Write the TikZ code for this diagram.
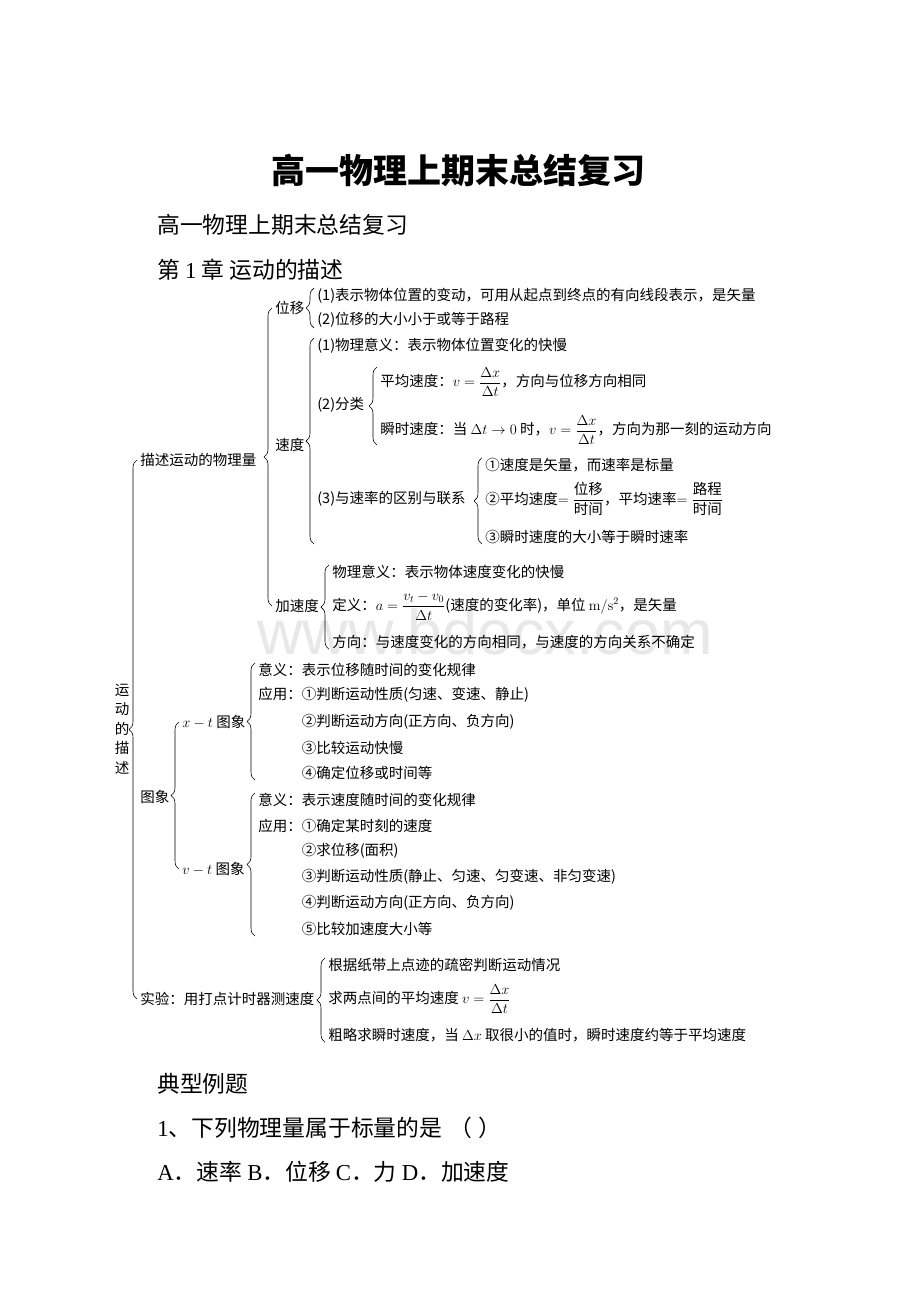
\documentclass[tikz,border=0pt]{standalone}
\usepackage{amsmath}
\usepackage[no-math]{fontspec}
\setmainfont{Noto Sans CJK SC}
\newfontfamily\lat{Liberation Serif}
\newfontfamily\wmfont{Liberation Sans}
\usetikzlibrary{decorations.pathreplacing}

\begin{document}
\begin{tikzpicture}[x=1pt, y=-1pt, semithick,
    leaf/.style={anchor=west, inner sep=0pt, font=\fontsize{14.5}{17}\selectfont},
    head/.style={anchor=west, inner sep=0pt, font=\fontsize{22.8}{26}\selectfont},
    brc/.style={decorate, decoration={brace, mirror, amplitude=8pt}, line width=0.6pt}]

\fill[white] (0,0) rectangle (920,1302);
\useasboundingbox (0,0) rectangle (920,1302);

\node (wm) at (485, 632) [text=black!9, inner sep=0pt, font=\wmfont\fontsize{63}{63}\selectfont] {www.bdocx.com};

\node (title) at (458, 170) [inner sep=0pt, font=\fontsize{34}{40}\selectfont\bfseries] {高一物理上期末总结复习};
\node (head1) at (157, 225) [head] {高一物理上期末总结复习};
\node (head2) at (157, 270) [head] {第 {\lat 1} 章 运动的描述};

\node (root) at (122, 729) [leaf, anchor=center, align=center, font=\fontsize{14.5}{19.5}\selectfont] {运\\动\\的\\描\\述};

\node (desc) at (140, 460) [leaf] {描述运动的物理量};
\node (tux)  at (140, 797) [leaf] {图象};
\node (expt) at (140, 999) [leaf] {实验：用打点计时器测速度};

\node (wy)  at (275, 308) [leaf] {位移};
\node (sd)  at (275, 445) [leaf] {速度};
\node (jsd) at (275, 606) [leaf] {加速度};

\node (wy1) at (317, 296) [leaf] {(1)表示物体位置的变动，可用从起点到终点的有向线段表示，是矢量};
\node (wy2) at (317, 320) [leaf] {(2)位移的大小小于或等于路程};

\node (sd1) at (317, 346) [leaf] {(1)物理意义：表示物体位置变化的快慢};
\node (sd2) at (317, 405) [leaf] {(2)分类};
\node (sd3) at (317, 499) [leaf] {(3)与速率的区别与联系};

\node (fl1) at (380, 382) [leaf] {平均速度：$v=\dfrac{\Delta x}{\Delta t}$，方向与位移方向相同};
\node (fl2) at (380, 430) [leaf] {瞬时速度：当 $\Delta t\to 0$ 时，$v=\dfrac{\Delta x}{\Delta t}$，方向为那一刻的运动方向};

\node (sl1) at (485, 465) [leaf] {①速度是矢量，而速率是标量};
\node (sl2) at (485, 499) [leaf] {②平均速度$=\dfrac{\mbox{位移}}{\mbox{时间}}$，平均速率$=\dfrac{\mbox{路程}}{\mbox{时间}}$};
\node (sl3) at (485, 537) [leaf] {③瞬时速度的大小等于瞬时速率};

\node (jsd1) at (332, 572) [leaf] {物理意义：表示物体速度变化的快慢};
\node (jsd2) at (332, 606) [leaf] {定义：$a=\dfrac{v_t-v_0}{\Delta t}$(速度的变化率)，单位 $\mathrm{m/s^2}$，是矢量};
\node (jsd3) at (332, 642) [leaf] {方向：与速度变化的方向相同，与速度的方向关系不确定};

\node (xt) at (182, 722) [leaf] {$x-t$ 图象};
\node (vt) at (182, 869) [leaf] {$v-t$ 图象};

\node (xt1) at (258, 670)   [leaf] {意义：表示位移随时间的变化规律};
\node (xt2) at (258, 695)   [leaf] {应用：①判断运动性质(匀速、变速、静止)};
\node (xt3) at (301.5, 722) [leaf] {②判断运动方向(正方向、负方向)};
\node (xt4) at (301.5, 748) [leaf] {③比较运动快慢};
\node (xt5) at (301.5, 773) [leaf] {④确定位移或时间等};

\node (vt1) at (258, 800)   [leaf] {意义：表示速度随时间的变化规律};
\node (vt2) at (258, 826)   [leaf] {应用：①确定某时刻的速度};
\node (vt3) at (301.5, 851) [leaf] {②求位移(面积)};
\node (vt4) at (301.5, 877) [leaf] {③判断运动性质(静止、匀速、匀变速、非匀变速)};
\node (vt5) at (301.5, 903) [leaf] {④判断运动方向(正方向、负方向)};
\node (vt6) at (301.5, 929) [leaf] {⑤比较加速度大小等};

\node (ex1) at (328, 965)  [leaf] {根据纸带上点迹的疏密判断运动情况};
\node (ex2) at (328, 999)  [leaf] {求两点间的平均速度 $v=\dfrac{\Delta x}{\Delta t}$};
\node (ex3) at (328, 1035) [leaf] {粗略求瞬时速度，当 $\Delta x$ 取很小的值时，瞬时速度约等于平均速度};

\node (lt)  at (157, 1084) [head] {典型例题};
\node (q1)  at (157, 1128) [head] {{\lat 1}、下列物理量属于标量的是\hspace{0.3em}（\hspace{0.3em}）};
\node (ans) at (157, 1172) [head] {{\lat A}．速率 {\lat B}．位移 {\lat C}．力 {\lat D}．加速度};

\draw[brc] ([xshift=-3pt]desc.west) -- ([xshift=-3pt]expt.west);
\draw[brc] ([xshift=-3pt]wy.west) -- ([xshift=-3pt]jsd.west);
\draw[brc] ([xshift=-3pt]xt.west) -- ([xshift=-3pt]vt.west);

\draw[brc] ([xshift=-3pt]wy1.north west) -- ([xshift=-3pt]wy1.west |- wy2.south);
\draw[brc] ([xshift=-3pt]sd1.north west) -- ([xshift=-3pt]sd1.west |- sl3.south);
\draw[brc] ([xshift=-3pt]fl1.north west) -- ([xshift=-3pt]fl2.south west);
\draw[brc] ([xshift=-3pt]sl1.north west) -- ([xshift=-3pt]sl3.south west);
\draw[brc] ([xshift=-3pt]jsd1.north west) -- ([xshift=-3pt]jsd3.south west);
\draw[brc] ([xshift=-3pt]xt1.north west) -- ([xshift=-3pt]xt1.west |- xt5.south);
\draw[brc] ([xshift=-3pt]vt1.north west) -- ([xshift=-3pt]vt1.west |- vt6.south);
\draw[brc] ([xshift=-3pt]ex1.north west) -- ([xshift=-3pt]ex3.south west);

\end{tikzpicture}
\end{document}
